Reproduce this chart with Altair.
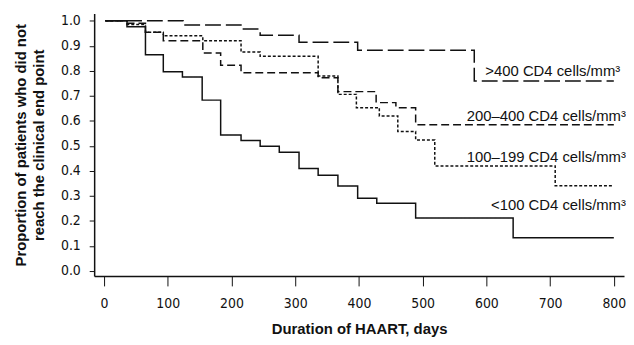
import altair as alt
import pandas as pd

# ---- data (Kaplan-Meier step curves) ----
days_gt400 = [2, 124, 217, 245, 306, 398, 581, 800]
surv_gt400 = [1.0, 0.983, 0.967, 0.942, 0.914, 0.882, 0.759, 0.759]

days_200_400 = [2, 36, 65, 93, 155, 183, 215, 336, 367, 427, 458, 489, 800]
surv_200_400 = [1.0, 0.99, 0.954, 0.92, 0.871, 0.822, 0.792, 0.772, 0.717, 0.673, 0.653, 0.585, 0.585]

days_100_199 = [2, 36, 65, 93, 155, 215, 245, 336, 367, 396, 432, 461, 489, 519, 708, 800]
surv_100_199 = [1.0, 0.985, 0.954, 0.94, 0.92, 0.875, 0.858, 0.779, 0.706, 0.653, 0.62, 0.558, 0.524, 0.42, 0.341, 0.341]

days_lt100 = [2, 36, 65, 93, 123, 154, 183, 215, 245, 275, 306, 336, 367, 398, 428, 489, 642, 800]
surv_lt100 = [1.0, 0.976, 0.864, 0.796, 0.775, 0.683, 0.544, 0.522, 0.499, 0.475, 0.41, 0.383, 0.34, 0.291, 0.271, 0.212, 0.133, 0.133]

groups = [">400", "200-400", "100-199", "<100"]
label_texts = [">400 CD4 cells/mm³", "200–400 CD4 cells/mm³", "100–199 CD4 cells/mm³", "<100 CD4 cells/mm³"]
label_x = [810, 819, 819, 819]
label_y = [0.781, 0.599, 0.437, 0.245]

x_ticks = [0, 100, 200, 300, 400, 500, 600, 700, 800]
y_ticks = [0.0, 0.1, 0.2, 0.3, 0.4, 0.5, 0.6, 0.7, 0.8, 0.9, 1.0]

# ---- build tables ----
rows = []
for g, ds, ss in [(groups[0], days_gt400, surv_gt400),
                  (groups[1], days_200_400, surv_200_400),
                  (groups[2], days_100_199, surv_100_199),
                  (groups[3], days_lt100, surv_lt100)]:
    for i, (d, s) in enumerate(zip(ds, ss)):
        rows.append({"group": g, "day": d, "surv": s, "order": i})
df = pd.DataFrame(rows)
labels = pd.DataFrame({"group": groups, "text": label_texts, "day": label_x, "surv": label_y})

TICK_FONT = "DejaVu Sans Condensed, Liberation Sans Narrow, sans-serif"
FONT = "Liberation Sans, Arial, sans-serif"

xscale = alt.Scale(domain=[-15.5, 816], nice=False, zero=False)
yscale = alt.Scale(domain=[-0.0198, 1.029], nice=False, zero=False)

xaxis = alt.Axis(values=x_ticks, title="Duration of HAART, days", grid=False,
                 tickSize=10, labelPadding=11, labelFont=TICK_FONT, labelFontSize=14,
                 labelColor="#111", titleFont=FONT, titleFontSize=15, titleFontWeight="bold",
                 titleColor="#111", titlePadding=11, domainColor="#111", tickColor="#111",
                 domainWidth=1.5, tickWidth=1, labelOverlap=False)
yaxis = alt.Axis(values=y_ticks, format=".1f", grid=False, tickCount=11,
                 title=["Proportion of patients who did not", "reach the clinical end point"],
                 tickSize=5, labelPadding=9, labelFont=TICK_FONT, labelFontSize=14,
                 labelColor="#111", titleFont=FONT, titleFontSize=15, titleFontWeight="bold",
                 titleColor="#111", titlePadding=14, titleLineHeight=18,
                 domainColor="#111", tickColor="#111", domainWidth=1.5, tickWidth=1,
                 labelOverlap=False)

dash_scale = alt.Scale(domain=groups, range=[[16, 5], [8, 4], [3, 2], [1, 0]])

lines = alt.Chart(df).mark_line(interpolate="step-after", color="#111", strokeWidth=1.5).encode(
    x=alt.X("day:Q", scale=xscale, axis=xaxis),
    y=alt.Y("surv:Q", scale=yscale, axis=yaxis),
    detail="group:N",
    order="order:Q",
    strokeDash=alt.StrokeDash("group:N", scale=dash_scale, legend=None),
)

texts = alt.Chart(labels).mark_text(align="right", baseline="alphabetic", font=FONT,
                                    fontSize=15, color="#111").encode(
    x=alt.X("day:Q", scale=xscale, axis=xaxis),
    y=alt.Y("surv:Q", scale=yscale, axis=yaxis),
    text="text:N",
)

chart = (lines + texts).properties(
    width=535, height=265,
    background="white",
    autosize=alt.AutoSizeParams(type="none"),
    padding={"left": 87, "top": 4, "right": 2, "bottom": 60},
).configure_view(stroke=None)

chart.save("out.html", embed_options={"renderer": "svg", "actions": False})
